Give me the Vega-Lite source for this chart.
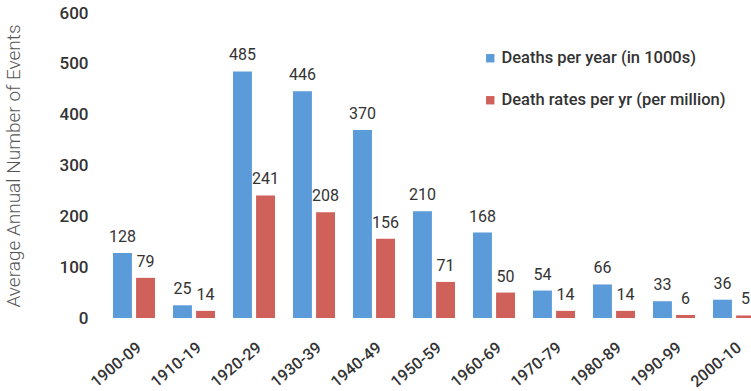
{
  "$schema": "https://vega.github.io/schema/vega-lite/v6.json",
  "autosize": "none",
  "width": 660,
  "height": 305,
  "padding": {"left": 104, "top": 13, "right": 0, "bottom": 73},
  "background": "white",
  "config": {
    "view": {"stroke": null},
    "font": "Roboto"
  },
  "data": {
    "values": [
      {"decade": "1900-09", "series": "Deaths per year (in 1000s)", "value": 128},
      {"decade": "1900-09", "series": "Death rates per yr (per million)", "value": 79},
      {"decade": "1910-19", "series": "Deaths per year (in 1000s)", "value": 25},
      {"decade": "1910-19", "series": "Death rates per yr (per million)", "value": 14},
      {"decade": "1920-29", "series": "Deaths per year (in 1000s)", "value": 485},
      {"decade": "1920-29", "series": "Death rates per yr (per million)", "value": 241},
      {"decade": "1930-39", "series": "Deaths per year (in 1000s)", "value": 446},
      {"decade": "1930-39", "series": "Death rates per yr (per million)", "value": 208},
      {"decade": "1940-49", "series": "Deaths per year (in 1000s)", "value": 370},
      {"decade": "1940-49", "series": "Death rates per yr (per million)", "value": 156},
      {"decade": "1950-59", "series": "Deaths per year (in 1000s)", "value": 210},
      {"decade": "1950-59", "series": "Death rates per yr (per million)", "value": 71},
      {"decade": "1960-69", "series": "Deaths per year (in 1000s)", "value": 168},
      {"decade": "1960-69", "series": "Death rates per yr (per million)", "value": 50},
      {"decade": "1970-79", "series": "Deaths per year (in 1000s)", "value": 54},
      {"decade": "1970-79", "series": "Death rates per yr (per million)", "value": 14},
      {"decade": "1980-89", "series": "Deaths per year (in 1000s)", "value": 66},
      {"decade": "1980-89", "series": "Death rates per yr (per million)", "value": 14},
      {"decade": "1990-99", "series": "Deaths per year (in 1000s)", "value": 33},
      {"decade": "1990-99", "series": "Death rates per yr (per million)", "value": 6},
      {"decade": "2000-10", "series": "Deaths per year (in 1000s)", "value": 36},
      {"decade": "2000-10", "series": "Death rates per yr (per million)", "value": 5}
    ]
  },
  "encoding": {
    "x": {
      "field": "decade",
      "type": "nominal",
      "sort": null,
      "scale": {"paddingInner": 0.3, "paddingOuter": 0.15},
      "axis": {
        "title": null,
        "labelAngle": -40,
        "labelFontSize": 16,
        "labelFontWeight": 500,
        "labelColor": "#333333",
        "labelPadding": 21,
        "labelLimit": 0,
        "domain": false,
        "ticks": false
      }
    },
    "xOffset": {
      "field": "series",
      "type": "nominal",
      "sort": ["Deaths per year (in 1000s)", "Death rates per yr (per million)"],
      "scale": {"paddingInner": 0.18}
    },
    "y": {
      "field": "value",
      "type": "quantitative",
      "scale": {"domain": [0, 600]},
      "axis": {
        "title": "Average Annual Number of Events",
        "titleFontSize": 19,
        "titleFontWeight": 300,
        "titleColor": "#555555",
        "titlePadding": 36,
        "values": [0, 100, 200, 300, 400, 500, 600],
        "labelFontSize": 17,
        "labelFontWeight": 500,
        "labelColor": "#333333",
        "labelPadding": 16,
        "domain": false,
        "ticks": false,
        "grid": false
      }
    }
  },
  "layer": [
    {
      "mark": {"type": "bar"},
      "encoding": {
        "color": {
          "field": "series",
          "type": "nominal",
          "sort": ["Deaths per year (in 1000s)", "Death rates per yr (per million)"],
          "scale": {"range": ["#5b9bd9", "#d0605a"]},
          "legend": {
            "title": null,
            "orient": "none",
            "legendX": 378,
            "legendY": 37,
            "symbolType": "square",
            "symbolSize": 70,
            "symbolStrokeWidth": 0,
            "labelFontSize": 16.5,
            "labelFontWeight": 500,
            "labelColor": "#333333",
            "labelLimit": 0,
            "labelOffset": 3,
            "rowPadding": 25
          }
        }
      }
    },
    {
      "mark": {"type": "text", "baseline": "bottom", "dy": -8, "fontSize": 16, "color": "#333333"},
      "encoding": {
        "text": {"field": "value", "type": "quantitative"}
      }
    }
  ]
}
